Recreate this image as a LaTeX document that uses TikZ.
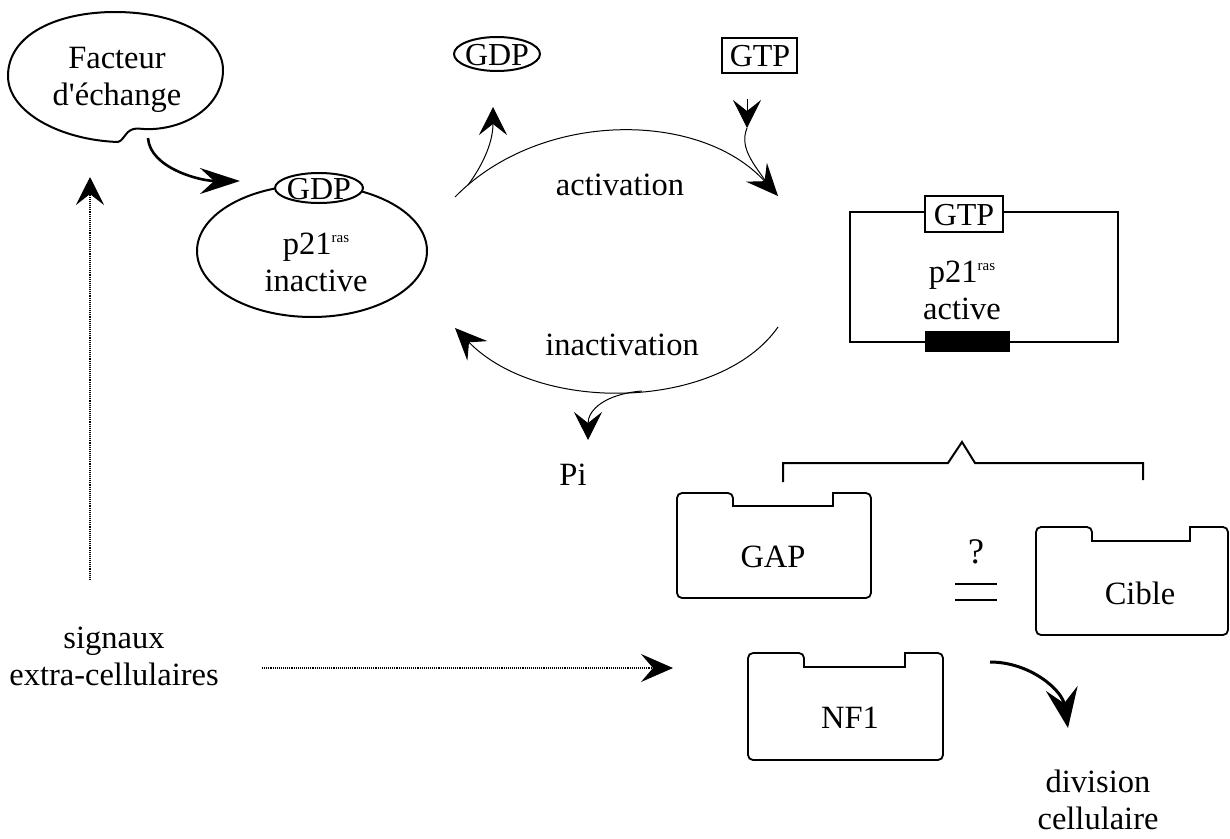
\documentclass[tikz,border=0pt]{standalone}
\usepackage{fontspec}
\setmainfont{Liberation Serif}
\usetikzlibrary{arrows.meta}
\newcommand{\rassup}{\raisebox{12pt}{\fontsize{15}{15}\selectfont ras}}
\begin{document}
\begin{tikzpicture}[x=1pt,y=-1pt,
  txt/.style={font=\fontsize{32.5}{37}\selectfont, align=center, inner sep=0pt},
  big/.style={font=\fontsize{32}{36}\selectfont, inner sep=0pt},
  thin/.style={line width=1pt},
  outl/.style={line width=2pt},
  dotl/.style={line width=1.1pt, densely dotted},
  boxl/.style={line width=1.8pt, rounded corners=5pt},
  tipbig/.style={-{Stealth[length=40pt,width=26pt,inset=14pt]}},
  tipmed/.style={-{Stealth[length=32pt,width=28pt,inset=12pt]}},
  tipchev/.style={-{Stealth[length=28pt,width=28pt,inset=11pt]}},
]
\useasboundingbox (0,0) rectangle (1230,838);

% ---- Facteur d'echange blob
\draw[outl] (118,142) .. controls (60,140) and (8,112) .. (8,76)
  .. controls (8,34) and (58,12) .. (115,12)
  .. controls (176,12) and (223,36) .. (223,70)
  .. controls (223,104) and (190,127) .. (153,129)
  .. controls (141,130) and (135,126) .. (128,132)
  .. controls (124,136) and (122,141) .. (118,142) -- cycle;
\node[txt] (facteur) at (117,80) {Facteur\\d\textquotesingle échange};
\coordinate (fa) at (148,138);

% ---- p21 inactive
\draw[outl] (312,251) ellipse [x radius=115, y radius=66];
\draw[outl, fill=white] (319,188) ellipse [x radius=44, y radius=15];
\node[big] (gdpin) at (319,189) {GDP};
\node[txt] (p21in) at (316,262) {p21\rassup\\inactive};
\coordinate (p21inW) at (240,181);

% ---- top GDP / GTP
\draw[outl] (497,54) ellipse [x radius=43, y radius=17];
\node[big] (gdptop) at (497,55) {GDP};
\draw[outl] (722,38) rectangle (797,73);
\node[big] (gtptop) at (760,56) {GTP};

% ---- p21 active
\draw[outl] (850,212) rectangle (1118,342);
\draw[outl, fill=white] (925,196) rectangle (1003,232);
\node[big] (gtpin) at (964,215) {GTP};
\fill (925,331) rectangle (1010,352);
\node[txt] (p21act) at (962,290) {p21\rassup\\active};

% ---- cycle arcs
\coordinate (actS) at (455,197);
\coordinate (actE) at (778,196);
\draw[thin, tipmed] (actS) .. controls (540,110) and (700,110) .. (actE);
\node[txt] (activation) at (620,185) {activation};
\coordinate (gdpB) at (468,185);
\coordinate (gdpT) at (493,107);
\draw[thin, tipchev] (gdpB) .. controls (485,162) and (493,140) .. (gdpT);
\coordinate (gtpA) at (747,99);
\coordinate (gtpB) at (747,128);
\coordinate (gtpJ) at (770,188);
\draw[thin, tipchev] (gtpA) -- (gtpB);
\draw[thin] (gtpB) .. controls (738,150) and (758,168) .. (gtpJ);

\coordinate (inS) at (778,327);
\coordinate (inE) at (455,328);
\draw[thin, tipmed] (inS) .. controls (720,410) and (540,415) .. (inE);
\node[txt] (inactivation) at (622,345) {inactivation};
\coordinate (piB) at (642,391);
\coordinate (piT) at (588,440);
\draw[thin, tipchev] (piB) .. controls (605,394) and (588,410) .. (piT);
\node[txt] (pi) at (573,475) {Pi};

% ---- bracket
\draw[outl] (783,482) -- (783,463) -- (948,463) -- (962,442) -- (975,463) -- (1143,463) -- (1143,480);

% ---- notched boxes
\draw[boxl] (677,598) -- (677,493) -- (733,493) [sharp corners] -- (733,506) -- (833,506) -- (833,493) [rounded corners=5pt] -- (871,493) -- (871,598) -- cycle;
\node[txt] (gap) at (773,557) {GAP};
\draw[boxl] (1036,635) -- (1036,527) -- (1092,527) [sharp corners] -- (1092,541) -- (1190,541) -- (1190,527) [rounded corners=5pt] -- (1228,527) -- (1228,635) -- cycle;
\node[txt] (cible) at (1140,593) {Cible};
\draw[boxl] (748,760) -- (748,653) -- (804,653) [sharp corners] -- (804,667) -- (905,667) -- (905,653) [rounded corners=5pt] -- (943,653) -- (943,760) -- cycle;
\node[txt] (nf1) at (850,718) {NF1};

% ---- question
\node[font=\fontsize{36}{36}\selectfont, inner sep=0pt] (q) at (976,552) {?};
\draw[outl] (955,584) -- (997,584);
\draw[outl] (955,600) -- (997,600);

% ---- division
\coordinate (nfA) at (990,662);
\coordinate (divT) at (1068,728);
\draw[line width=3pt, {-Stealth[length=40pt,width=32pt,inset=15pt]}] (nfA) .. controls (1030,662) and (1062,690) .. (divT);
\node[txt] (division) at (1098,800) {division\\cellulaire};

% ---- signals
\node[txt] (signaux) at (114,656) {signaux\\extra-cellulaires};
\coordinate (sigUp) at (90,580);
\coordinate (facB) at (90,177);
\draw[dotl, tipchev] (sigUp) -- (facB);
\coordinate (sigR) at (262,668);
\coordinate (nfL) at (673,668);
\draw[dotl, tipmed] (sigR) -- (nfL);

% ---- exchange arrow
\draw[line width=2.6pt, tipbig] (fa) .. controls (150,168) and (200,181) .. (p21inW);
\end{tikzpicture}
\end{document}
